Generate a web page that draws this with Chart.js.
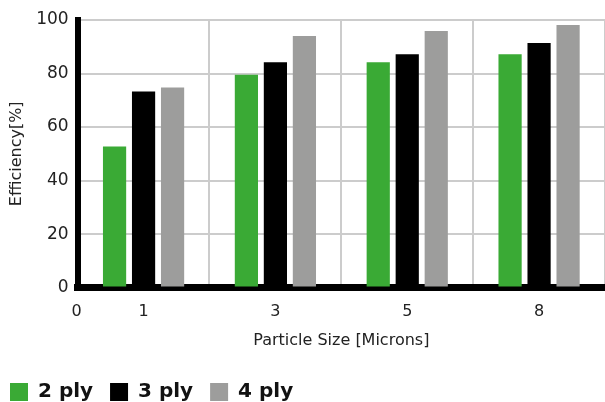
<!DOCTYPE html>
<html lang="en">
<head>
    <meta charset="UTF-8">
    <title>Efficiency by Particle Size</title>
    <script src="https://cdn.jsdelivr.net/npm/chart.js"></script>
    <style>
        body { margin: 0; background: #fff; }
        #wrap { width: 605px; height: 402px; }
    </style>
</head>
<body>
    <div id="wrap"><canvas id="effChart"></canvas></div>

    <script>
        // data
        const sizes = ['1', '3', '5', '8'];
        const ply2 = [52.7, 79.5, 84.2, 87.2];
        const ply3 = [73.3, 84.2, 87.2, 91.4];
        const ply4 = [74.8, 94.0, 95.9, 98.1];
        const yTicks = [0, 20, 40, 60, 80, 100];

        const font = "'DejaVu Sans', sans-serif";

        // the lone "0" under the corner of the axes
        const zeroLabel = {
            id: 'zeroLabel',
            afterDraw(chart) {
                const x = chart.scales.x;
                const c = chart.ctx;
                c.save();
                c.font = '16px ' + font;
                c.fillStyle = '#222';
                c.textAlign = 'center';
                c.textBaseline = 'top';
                c.fillText('0', x.left - 1, x.top + 16);
                c.restore();
            }
        };

        new Chart(document.getElementById('effChart'), {
            type: 'bar',
            data: {
                labels: sizes,
                datasets: [
                    { label: '2 ply', data: ply2, backgroundColor: '#3aaa35' },
                    { label: '3 ply', data: ply3, backgroundColor: '#000000' },
                    { label: '4 ply', data: ply4, backgroundColor: '#9d9d9c' }
                ]
            },
            options: {
                responsive: true,
                maintainAspectRatio: false,
                animation: false,
                categoryPercentage: 0.66,
                barPercentage: 0.8,
                layout: { padding: { top: 20, right: 0, left: 0, bottom: -10 } },
                plugins: {
                    tooltip: { enabled: false },
                    legend: {
                        position: 'bottom',
                        align: 'start',
                        labels: {
                            boxWidth: 18,
                            boxHeight: 18,
                            padding: 10,
                            color: '#111',
                            font: { family: font, size: 20, weight: 'bold' },
                            // a trailing space widens the gap between items
                            generateLabels(chart) {
                                return Chart.defaults.plugins.legend.labels.generateLabels(chart)
                                    .map(l => Object.assign(l, { text: l.text + ' ' }));
                            }
                        }
                    }
                },
                scales: {
                    x: {
                        grid: { color: '#cccccc', lineWidth: 2, drawTicks: false, offset: true },
                        border: { color: '#000', width: 7 },
                        ticks: { color: '#222', padding: 15, font: { family: font, size: 16 } },
                        title: {
                            display: true,
                            text: 'Particle Size [Microns]',
                            color: '#222',
                            padding: { top: -6, bottom: 22 },
                            font: { family: font, size: 16 }
                        }
                    },
                    y: {
                        min: 0,
                        max: 100,
                        afterBuildTicks(scale) {
                            scale.ticks = yTicks.map(v => ({ value: v }));
                        },
                        grid: { color: '#cccccc', lineWidth: 2, drawTicks: false },
                        border: { color: '#000', width: 6 },
                        ticks: { color: '#222', padding: 9, font: { family: font, size: 17 } },
                        title: {
                            display: true,
                            text: 'Efficiency[%]',
                            color: '#222',
                            padding: { top: 7, bottom: 1 },
                            font: { family: font, size: 16 }
                        }
                    }
                }
            },
            plugins: [zeroLabel]
        });
    </script>
</body>
</html>
